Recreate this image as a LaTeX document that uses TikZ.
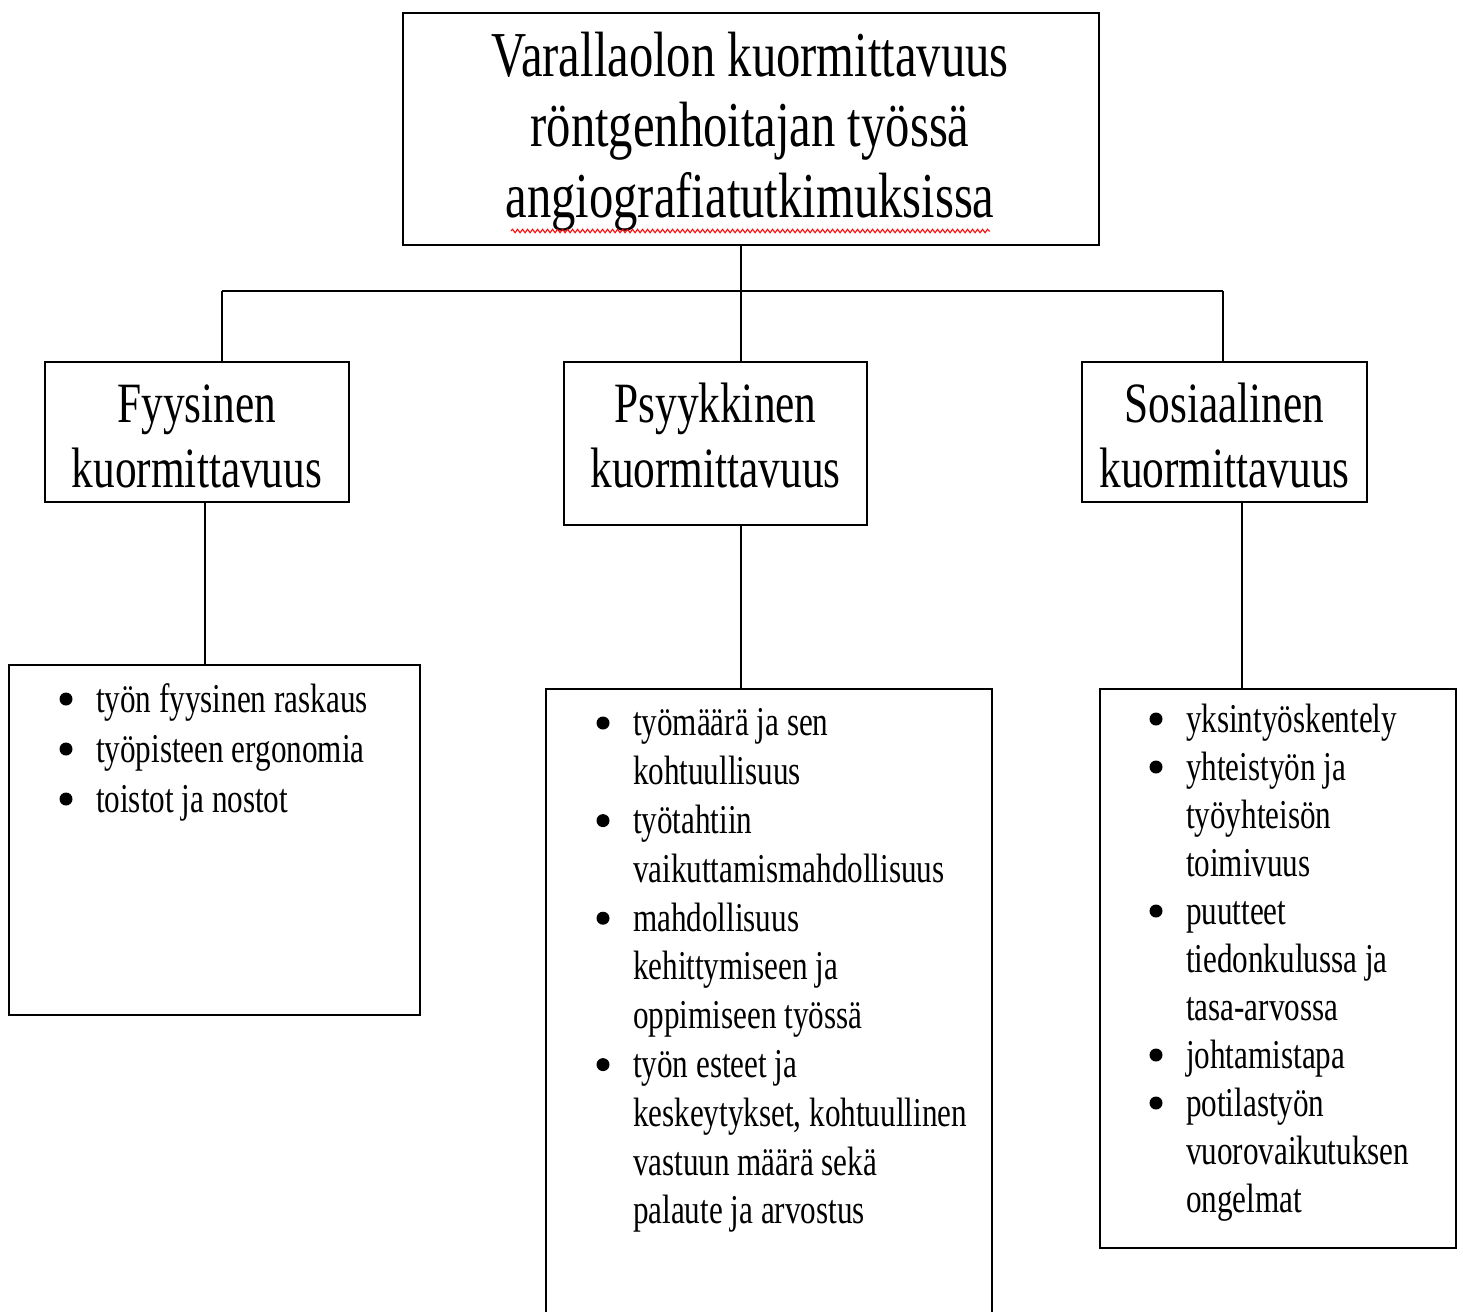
\documentclass[tikz,border=0pt]{standalone}
\usepackage{fontspec}
\setmainfont{Liberation Serif}
\newfontfamily\cond[FakeStretch=0.76]{Liberation Serif}
\usetikzlibrary{decorations.pathmorphing}
\newcommand{\bul}{\hspace*{36pt}}
\begin{document}
\begin{tikzpicture}[x=1pt,y=-1pt,line width=2pt,
  box/.style={draw,rectangle,inner sep=0pt,anchor=north west},
  titletxt/.style={inner sep=0pt,font=\cond\fontsize{64}{70}\selectfont},
  cattxt/.style={inner sep=0pt,font=\cond\fontsize{57}{65}\selectfont},
  listtxt/.style={inner sep=0pt,anchor=north west},
  dot/.style={fill=black,draw=none}]
\useasboundingbox (0,0) rectangle (1463,1311);
\clip (0,0) rectangle (1463,1311);
% boxes
\node[box,minimum width=696pt,minimum height=232pt] (title) at (402,12) {};
\node[box,minimum width=304pt,minimum height=140pt] (fyy) at (44,361) {};
\node[box,minimum width=303pt,minimum height=163pt] (psy) at (563,361) {};
\node[box,minimum width=285pt,minimum height=140pt] (sos) at (1081,361) {};
\node[box,minimum width=411pt,minimum height=350pt] (lst1) at (8,664) {};
\node[box,minimum width=446pt,minimum height=700pt] (lst2) at (545,688) {};
\node[box,minimum width=356pt,minimum height=559pt] (lst3) at (1099,688) {};
% texts
\node[titletxt] (titletext) at (750,133) {\begin{tabular}{@{}c@{}}Varallaolon kuormittavuus\\ röntgenhoitajan työssä\\ angiografiatutkimuksissa\end{tabular}};
\draw[red,line width=1pt,decorate,decoration={snake,amplitude=1.8pt,segment length=5pt}] (511,231) -- (990,231);
\node[cattxt] (fyytext) at (fyy.center |- 0,441.5) {\begin{tabular}{@{}c@{}}Fyysinen\\ kuormittavuus\end{tabular}};
\node[cattxt] (psytext) at (psy.center |- 0,441.5) {\begin{tabular}{@{}c@{}}Psyykkinen\\ kuormittavuus\end{tabular}};
\node[cattxt] (sostext) at (sos.center |- 0,441.5) {\begin{tabular}{@{}c@{}}Sosiaalinen\\ kuormittavuus\end{tabular}};
\node[listtxt,font=\cond\fontsize{41}{50}\selectfont] (list1) at (59,676) {\begin{tabular}{@{}l@{}l@{}}
\bul & työn fyysinen raskaus\\
\bul & työpisteen ergonomia\\
\bul & toistot ja nostot
\end{tabular}};
\node[listtxt,font=\cond\fontsize{41}{48.8}\selectfont] (list2) at (596,700.8) {\begin{tabular}{@{}l@{}l@{}}
\bul & työmäärä ja sen\\
 & kohtuullisuus\\
\bul & työtahtiin\\
 & vaikuttamismahdollisuus\\
\bul & mahdollisuus\\
 & kehittymiseen ja\\
 & oppimiseen työssä\\
\bul & työn esteet ja\\
 & keskeytykset, kohtuullinen\\
 & vastuun määrä sekä\\
 & palaute ja arvostus
\end{tabular}};
\node[listtxt,font=\cond\fontsize{41}{48}\selectfont] (list3) at (1149,697.4) {\begin{tabular}{@{}l@{}l@{}}
\bul & yksintyöskentely\\
\bul & yhteistyön ja\\
 & työyhteisön\\
 & toimivuus\\
\bul & puutteet\\
 & tiedonkulussa ja\\
 & tasa-arvossa\\
\bul & johtamistapa\\
\bul & potilastyön\\
 & vuorovaikutuksen\\
 & ongelmat
\end{tabular}};
% bullets
\foreach \y in {699,749,799} \fill[dot] (66,\y) circle (6.5);
\foreach \y in {723,820.6,918.2,1064.6} \fill[dot] (603,\y) circle (6.5);
\foreach \y in {719,767,911,1055,1103} \fill[dot] (1156,\y) circle (6.5);
% connectors
\coordinate (hub) at (741,291);
\coordinate (hl) at (222,291);
\coordinate (hr) at (1223,291);
\coordinate (c1) at (205,600);
\coordinate (c3) at (1242,600);
\draw (title.south -| hub) -- (psy.north -| hub);
\draw (hl) -- (hr);
\draw (hl) -- (hl |- fyy.north);
\draw (hr) -- (hr |- sos.north);
\draw (fyy.south -| c1) -- (lst1.north -| c1);
\draw (psy.south -| hub) -- (lst2.north -| hub);
\draw (sos.south -| c3) -- (lst3.north -| c3);
\end{tikzpicture}
\end{document}
